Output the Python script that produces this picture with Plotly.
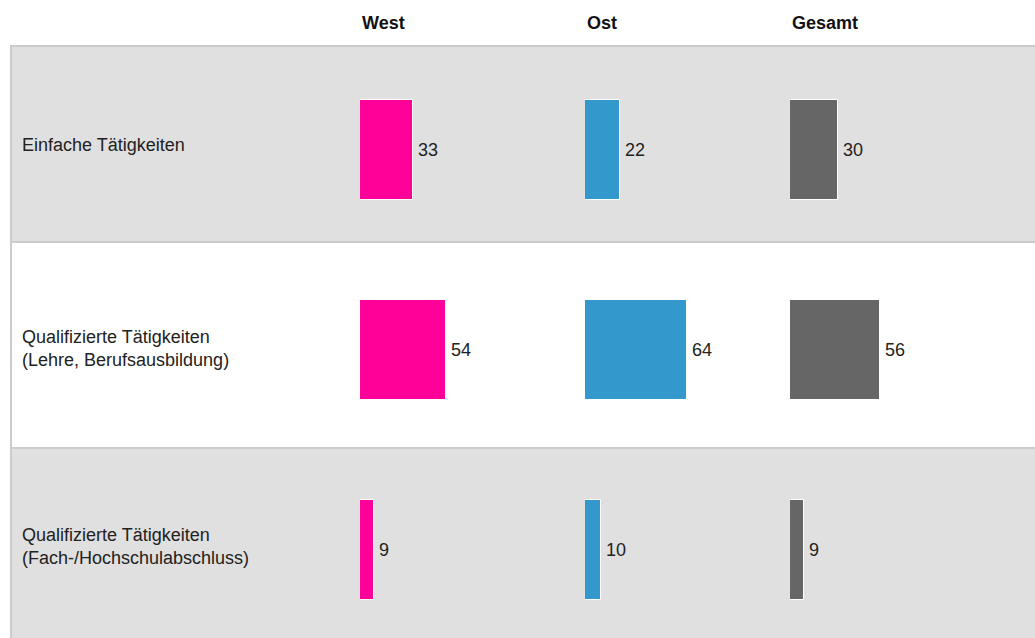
import plotly.graph_objects as go

# ---- data ----
categories = [
    "Einfache Tätigkeiten",
    "Qualifizierte Tätigkeiten<br>(Lehre, Berufsausbildung)",
    "Qualifizierte Tätigkeiten<br>(Fach-/Hochschulabschluss)",
]
series_names = ["West", "Ost", "Gesamt"]
west = [33, 54, 9]
ost = [22, 64, 10]
gesamt = [30, 56, 9]
series_values = [west, ost, gesamt]
colors = ["#FF0099", "#3399CC", "#666666"]

W, H = 1035, 638
FONT = "Liberation Sans, Arial, Helvetica, sans-serif"
TXT = "#222222"

# pixel layout of the table
col_left_px = [360, 585, 790]
px_per_unit = 1.6
row_edges_px = [46, 242, 448, 660]
label_center_px = [145, 348, 546]

def py(p):
    return 1 - p / H

fig = go.Figure()

axis_ids = ["x", "x2", "x3"]
for k, (name, vals, col) in enumerate(zip(series_names, series_values, colors)):
    fig.add_trace(go.Bar(
        y=categories, x=vals, orientation="h", name=name,
        marker=dict(color=col, line=dict(color="white", width=1)),
        width=0.5, xaxis=axis_ids[k], yaxis="y",
        hoverinfo="skip", showlegend=False,
    ))
    # value labels
    for c, v in zip(categories, vals):
        fig.add_annotation(
            x=v, y=c, xref=axis_ids[k], yref="y", text=str(v),
            showarrow=False, xanchor="left", yanchor="middle", xshift=3,
            font=dict(family=FONT, size=18, color=TXT),
        )
    # column header
    dom = "x domain" if k == 0 else f"{axis_ids[k]} domain"
    fig.add_annotation(
        x=0, y=py(23), xref=dom, yref="paper", text=f"<b>{name}</b>",
        showarrow=False, xanchor="left", yanchor="middle", xshift=0,
        font=dict(family=FONT, size=18, color="#111111"),
    )

# row backgrounds
row_fills = ["#E0E0E0", "#FFFFFF", "#E0E0E0"]
for i, fill in enumerate(row_fills):
    fig.add_shape(
        type="rect", xref="paper", yref="paper",
        x0=11 / W, x1=1.05, y0=py(row_edges_px[i + 1]), y1=py(row_edges_px[i]),
        fillcolor=fill, line=dict(color="#CCCCCC", width=2), layer="below",
    )

# category labels
for c, p in zip(categories, label_center_px):
    fig.add_annotation(
        x=20 / W, y=py(p), xref="paper", yref="paper", text=c,
        showarrow=False, xanchor="left", yanchor="middle", align="left",
        font=dict(family=FONT, size=18, color=TXT),
    )

def xdomain(left):
    return [left / W, (left + 100 * px_per_unit) / W]

common_x = dict(range=[0, 100], showgrid=False, zeroline=False,
                showticklabels=False, showline=False, ticks="", fixedrange=True)
fig.update_layout(
    width=W, height=H,
    margin=dict(l=0, r=0, t=0, b=0),
    paper_bgcolor="white", plot_bgcolor="rgba(0,0,0,0)",
    xaxis=dict(domain=xdomain(col_left_px[0]), anchor="y", **common_x),
    xaxis2=dict(domain=xdomain(col_left_px[1]), anchor="y", **common_x),
    xaxis3=dict(domain=xdomain(col_left_px[2]), anchor="y", **common_x),
    yaxis=dict(type="category", categoryorder="array", categoryarray=categories,
               range=[(H - 150) / 200, -0.75], showgrid=False, zeroline=False,
               showticklabels=False, showline=False, ticks="", fixedrange=True),
    bargap=0, font=dict(family=FONT, size=18, color=TXT),
)

fig.write_html(
    "out.html",
    config={"displayModeBar": False},
    post_script="document.body.style.margin='0';document.body.style.overflow='hidden';"
                "document.documentElement.style.overflow='hidden';",
)
